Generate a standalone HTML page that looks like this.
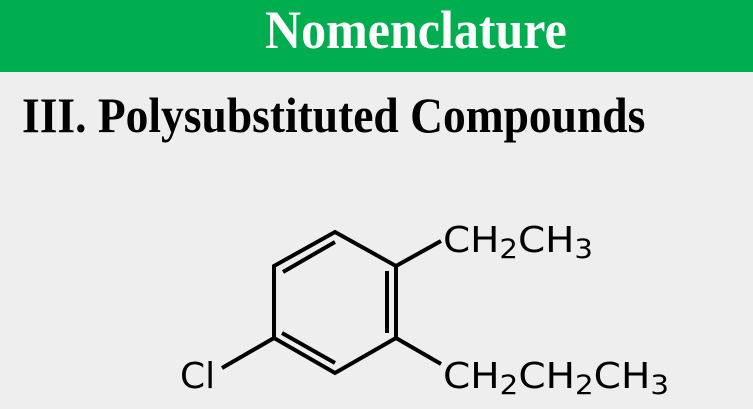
<!DOCTYPE html>
<html><head><style>
html,body{margin:0;padding:0;}
body{width:753px;height:409px;background:#eeeeee;position:relative;overflow:hidden;}
.bar{position:absolute;left:0;top:0;width:753px;height:72px;background:#00ae50;}
.t{position:absolute;font-family:"Liberation Serif",serif;font-weight:bold;white-space:nowrap;}
</style></head><body>
<div class="bar"></div>
<div class="t" style="left:265px;top:-3px;font-size:50px;line-height:60px;color:#fff;transform:scaleY(1.08);transform-origin:0 0;">Nomenclature</div>
<div class="t" style="left:22px;top:88px;font-size:45.5px;line-height:50px;color:#000;transform:scaleY(1.1);transform-origin:0 0;">III. Polysubstituted Compounds</div>
<svg width="753" height="409" style="position:absolute;left:0;top:0">
<g stroke="#000" stroke-width="4" fill="none" stroke-linecap="butt" stroke-linejoin="miter">
<polygon points="335,232 396,266 396,338 335,373 274,338 274,266"/>
<line x1="283" y1="272" x2="335" y2="242"/>
<line x1="387" y1="271" x2="387" y2="333"/>
<line x1="282" y1="333" x2="335" y2="363"/>
<line x1="396" y1="266" x2="441" y2="241"/>
<line x1="396" y1="338" x2="441" y2="364"/>
<line x1="274" y1="338" x2="222" y2="368"/>
</g>
<g font-family="DejaVu Sans, sans-serif" font-size="36" fill="#000">
<text x="180" y="388">Cl</text>
<text x="443" y="252" textLength="150" lengthAdjust="spacingAndGlyphs">CH<tspan font-size="27" dy="6">2</tspan><tspan dy="-6">CH</tspan><tspan font-size="27" dy="6">3</tspan></text>
<text x="443" y="388" textLength="226" lengthAdjust="spacingAndGlyphs">CH<tspan font-size="27" dy="6">2</tspan><tspan dy="-6">CH</tspan><tspan font-size="27" dy="6">2</tspan><tspan dy="-6">CH</tspan><tspan font-size="27" dy="6">3</tspan></text>
</g>
</svg>
</body></html>
